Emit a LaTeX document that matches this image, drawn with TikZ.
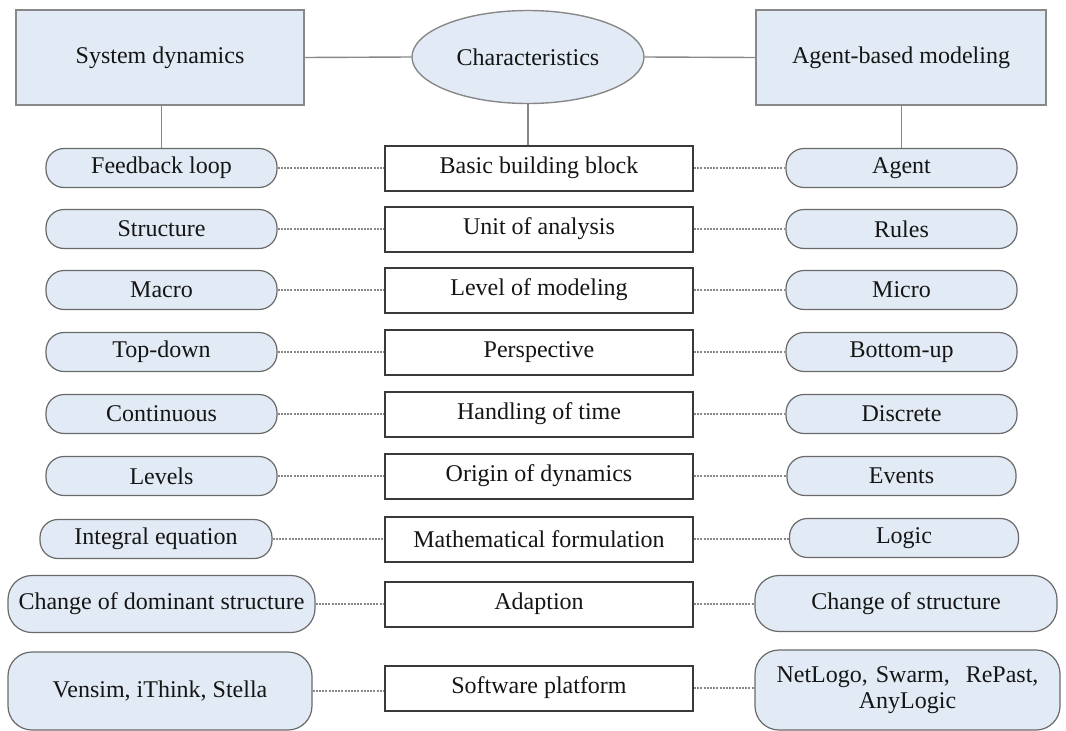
\documentclass[tikz,border=0pt]{standalone}
\usepackage{fontspec}
\setmainfont{Liberation Serif}
\usetikzlibrary{shapes.geometric}
\definecolor{pillfill}{HTML}{E2EBF5}
\definecolor{pillline}{HTML}{6A6A6A}
\definecolor{boxline}{HTML}{3A3A3A}
\definecolor{linkgray}{HTML}{888888}
\definecolor{txt}{HTML}{151515}
\begin{document}
\begin{tikzpicture}[x=1pt,y=-1pt,
  every node/.style={font=\fontsize{24}{27}\selectfont, text=txt, inner sep=0pt, align=center},
  headbox/.style={draw=linkgray, line width=1.4pt, fill=pillfill, minimum width=#1, minimum height=95},
  charell/.style={ellipse, draw=linkgray, line width=1.4pt, fill=pillfill, minimum width=232, minimum height=93},
  featbox/.style={draw=boxline, line width=2pt, fill=white, minimum width=308, minimum height=45},
  pill/.style={draw=pillline, line width=1.2pt, fill=pillfill, rounded corners=18pt, minimum width=#1, minimum height=39},
  bigpill/.style={draw=pillline, line width=1.2pt, fill=pillfill, rounded corners=24pt, minimum width=#1},
  solidlink/.style={draw=linkgray, line width=1.4pt},
  dotlink/.style={draw=linkgray, line width=1.2pt, dash pattern=on 2pt off 1.2pt}
]
\useasboundingbox[fill=white] (0,0) rectangle (1066,731);

% header row
\node[headbox=288] (sd) at (160,57.5) {System dynamics};
\node[charell] (ch) at (528,57) {Characteristics};
\node[headbox=290] (abm) at (901,57.5) {Agent-based modeling};

% characteristics column
\node[featbox] (c1) at (539,168) {Basic building block};
\node[featbox] (c2) at (539,229) {Unit of analysis};
\node[featbox] (c3) at (539,290) {Level of modeling};
\node[featbox] (c4) at (539,352) {Perspective};
\node[featbox] (c5) at (539,414) {Handling of time};
\node[featbox] (c6) at (539,476) {Origin of dynamics};
\node[featbox] (c7) at (539,539) {Mathematical formulation};
\node[featbox] (c8) at (539,604) {Adaption};
\node[featbox] (c9) at (539,688) {Software platform};

% system dynamics column
\node[pill=231] (l1) at (161.5,168) {Feedback loop};
\node[pill=231] (l2) at (161.5,229) {Structure};
\node[pill=231] (l3) at (161.5,290) {Macro};
\node[pill=231] (l4) at (161.5,352) {Top-down};
\node[pill=231] (l5) at (161.5,414) {Continuous};
\node[pill=231] (l6) at (161.5,476) {Levels};
\node[pill=232] (l7) at (156,539) {Integral equation};
\node[bigpill=307, minimum height=57] (l8) at (161.5,604) {Change of dominant structure};
\node[bigpill=304, minimum height=78] (l9) at (160,691) {Vensim, iThink, Stella};

% agent-based modeling column
\node[pill=231] (r1) at (901.5,168) {Agent};
\node[pill=231] (r2) at (901.5,229) {Rules};
\node[pill=231] (r3) at (901.5,290) {Micro};
\node[pill=231] (r4) at (901.5,352) {Bottom-up};
\node[pill=231] (r5) at (901.5,414) {Discrete};
\node[pill=229] (r6) at (901.5,476) {Events};
\node[pill=229] (r7) at (904,538) {Logic};
\node[bigpill=302, minimum height=56] (r8) at (906,603.5) {Change of structure};
\node[bigpill=305, minimum height=80, text width=295] (r9) at (907.5,690) {NetLogo, Swarm,\ \ RePast,\\[-1pt] AnyLogic};

% header connectors
\draw[solidlink] (sd.east) -- (ch.west);
\draw[solidlink] (ch.east) -- (abm.west);
\draw[solidlink] (sd.south -| l1.north) -- (l1.north);
\draw[solidlink] (ch.south) -- (ch.south |- c1.north);
\draw[solidlink] (abm.south -| r1.north) -- (r1.north);

% row connectors
\foreach \i in {1,...,9}{
  \draw[dotlink] (l\i.east) -- (l\i.east -| c\i.west);
  \draw[dotlink] (c\i.east) -- (c\i.east -| r\i.west);
}
\end{tikzpicture}
\end{document}
